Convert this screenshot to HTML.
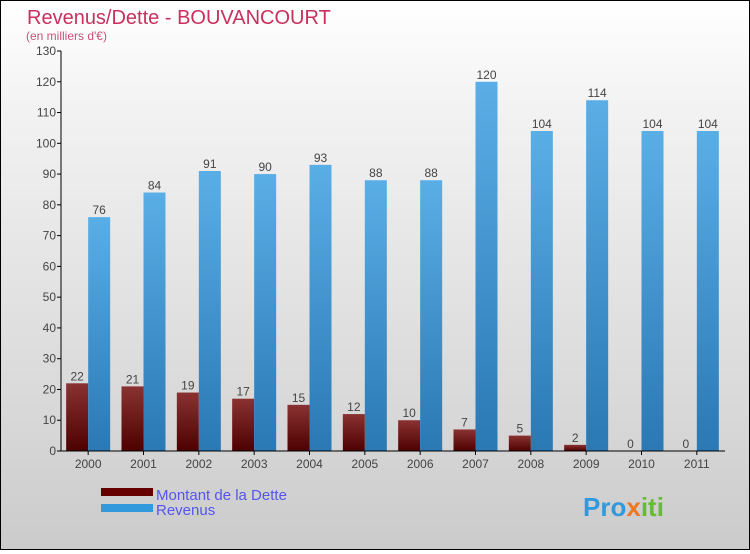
<!DOCTYPE html>
<html><head><meta charset="utf-8"><style>
body{margin:0}
#c{width:748px;height:548px;border:1px solid #000;background:linear-gradient(#ffffff,#f2f2f2 20%,#d8d8d8 75%,#cbcbcb);position:relative;font-family:"Liberation Sans",sans-serif}
</style></head><body>
<div id="c">
<svg width="748" height="548">
<defs>
<linearGradient id="gd" x1="0" y1="0" x2="0" y2="1"><stop offset="0" stop-color="#8a3232"/><stop offset="1" stop-color="#4e0000"/></linearGradient>
<linearGradient id="gr" x1="0" y1="0" x2="0" y2="1"><stop offset="0" stop-color="#5aaee6"/><stop offset="1" stop-color="#2a78b4"/></linearGradient>
</defs>
<text x="26" y="23" font-size="20" fill="#c8305e">Revenus/Dette - BOUVANCOURT</text>
<text x="25" y="39" font-size="12" fill="#c8507a">(en milliers d'€)</text>
<g id="plot"></g>
<rect x="100" y="487" width="52" height="8" fill="#660000"/>
<text x="155" y="499" font-size="15" fill="#5555ee">Montant de la Dette</text>
<rect x="100" y="503" width="52" height="8" fill="#3399dd"/>
<text x="155" y="514" font-size="15" fill="#5555ee">Revenus</text>
<text x="582" y="515" font-size="26" font-weight="bold" fill="#3399dd">Pro<tspan fill="#ee7722">x</tspan><tspan fill="#66bb33">iti</tspan></text>
</svg>
</div>
<script>
const years=["2000","2001","2002","2003","2004","2005","2006","2007","2008","2009","2010","2011"];
const dette=[22,21,19,17,15,12,10,7,5,2,0,0];
const revenus=[76,84,91,90,93,88,88,120,104,114,104,104];
const yTicks=[0,10,20,30,40,50,60,70,80,90,100,110,120,130];
const NS="http://www.w3.org/2000/svg";
const g=document.getElementById('plot');
const x0=60,x1=724,yb=450,yt=50,ymax=130;
const cw=(x1-x0)/years.length;
function y(v){return yb-(v/ymax)*(yb-yt);}
function xc(i){return x0+cw*(i+0.5);}
function el(t,a){const e=document.createElementNS(NS,t);for(const k in a)e.setAttribute(k,a[k]);g.appendChild(e);return e;}
yTicks.forEach(v=>{
  const l=el('line',{x1:x0-4,x2:x0,y1:y(v),y2:y(v),stroke:'#000'});
  
  
  const t=el('text',{x:x0-5,y:y(v)+4,'text-anchor':'end','font-size':12,fill:'#444'});
  t.textContent=v;
  
  
});
years.forEach((yr,i)=>{
  const c=xc(i)-0.5;
  const bd=el('rect',{x:c-22,y:y(dette[i]),width:22,height:yb-y(dette[i]),fill:'url(#gd)'});
  
  
  const br=el('rect',{x:c,y:y(revenus[i]),width:22,height:yb-y(revenus[i]),fill:'url(#gr)'});
  
  
  const ld=el('text',{x:c-11,y:y(dette[i])-3,'text-anchor':'middle','font-size':12,fill:'#444'});
  ld.textContent=dette[i];
  
  
  const lr=el('text',{x:c+11,y:y(revenus[i])-3,'text-anchor':'middle','font-size':12,fill:'#444'});
  lr.textContent=revenus[i];
  
  
  const tk=el('line',{x1:c,x2:c,y1:yb,y2:yb+4,stroke:'#000'});
  
  
  const xt=el('text',{x:c,y:yb+17,'text-anchor':'middle','font-size':12,fill:'#444'});
  xt.textContent=yr;
  
  
});
const ax=el('line',{x1:x0,x2:x0,y1:yt,y2:yb,stroke:'#000'});


const bx=el('line',{x1:x0,x2:x1,y1:yb,y2:yb,stroke:'#000'});


</script>
</body></html>
